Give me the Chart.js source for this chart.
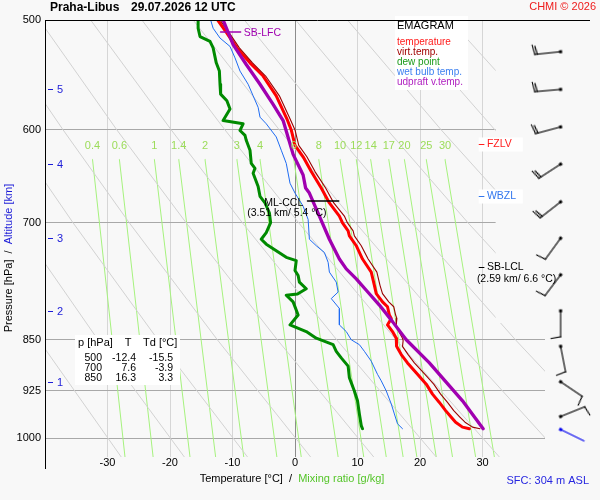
<!DOCTYPE html>
<html>
<head>
<meta charset="utf-8">
<script src="https://cdn.jsdelivr.net/npm/chart.js@4/dist/chart.umd.min.js"></script>
<style>
  html, body { margin: 0; padding: 0; background: #f8f8f8; }
  #wrap { width: 600px; height: 500px; }
</style>
</head>
<body>
<div id="wrap"><canvas id="emagram" width="600" height="500"></canvas></div>
<script>
// ─── Sounding data ───
const tempP = [500, 511, 523.7, 536.8, 548.7, 567, 589, 600, 615.5, 627.3, 642.9, 660.7, 677.2, 692.1, 700, 709.3, 715.2, 727, 743.2, 759.5, 776.3, 787.1, 797.9, 804.4, 815.5, 820.1, 829, 838.2, 847.5, 851, 859, 870.8, 882.9, 899.8, 914.6, 929.8, 942.7, 955.6, 965, 974.1, 982.1, 984.7];
const tempT = [-12.4, -10.9, -9.3, -7.2, -5.1, -3.0, -1.3, -0.6, 0.0, 1.3, 2.6, 4.2, 5.5, 7.1, 7.6, 8.5, 8.7, 9.8, 10.8, 12.2, 12.7, 13.0, 14.0, 14.8, 15.1, 15.4, 14.8, 15.6, 16.2, 16.3, 16.2, 17.0, 18.0, 19.6, 21.0, 22.0, 23.1, 24.1, 24.9, 25.7, 26.8, 27.9];
const virtT = [-12.0, -10.5, -8.9, -6.8, -4.7, -2.5, -0.8, 0.0, 0.6, 1.9, 3.2, 4.9, 6.2, 7.9, 8.4, 9.3, 9.5, 10.6, 11.7, 13.1, 13.6, 14.0, 15.0, 15.8, 16.1, 16.3, 16.2, 16.6, 17.2, 17.3, 17.2, 18.1, 19.1, 20.8, 22.2, 23.3, 24.4, 25.4, 26.3, 27.2, 28.4, 29.6];

const dewP = [500, 506.9, 513.9, 518.1, 523.7, 536.8, 544.2, 556.2, 565.4, 571.7, 579.5, 590.7, 593.9, 600.5, 605.4, 610.4, 620.5, 634.2, 639.4, 644.7, 658.9, 669.8, 677.2, 688.3, 699.7, 711.3, 719.2, 725.1, 733.0, 741.1, 745.1, 757.5, 763.7, 772.2, 780.7, 787.5, 789.2, 797.9, 815.5, 829.0, 838.2, 847.5, 856.6, 866.1, 875.6, 887.6, 904.9, 924.9, 940.2, 960.9, 979.6, 984.7];
const dewT = [-15.5, -15.5, -15.2, -13.6, -13.1, -12.6, -12.1, -12.0, -11.9, -10.9, -10.4, -11.5, -8.3, -8.8, -8.0, -7.8, -7.2, -7.0, -6.4, -6.7, -5.9, -5.6, -4.8, -4.1, -3.9, -4.6, -5.4, -4.6, -3.0, -1.4, 0.2, 0.0, 0.5, 0.7, 1.8, 0.4, -1.4, -0.3, 0.5, -0.8, 1.8, 3.4, 6.1, 6.6, 7.4, 8.5, 8.7, 9.5, 10.0, 10.3, 10.6, 10.8];

const wetP = [500, 506.9, 515.2, 522.4, 532.4, 544.2, 556.2, 567.0, 577.9, 587.4, 593.9, 607.0, 620.5, 634.2, 655.4, 666.2, 680.9, 696.0, 719.2, 727.0, 735.1, 747.3, 759.5, 772.2, 785.0, 793.6, 806.7, 829.0, 838.2, 849.7, 856.6, 866.1, 880.4, 899.8, 909.6, 924.9, 945.1, 960.9, 976.7, 984.7];
const wetT = [-13.5, -13.1, -12.0, -10.4, -9.6, -8.8, -7.5, -6.7, -5.9, -5.6, -4.6, -3.0, -2.2, -1.4, -0.8, 0.0, 1.3, 2.1, 2.3, 3.4, 4.7, 5.3, 5.5, 6.6, 6.9, 5.8, 7.1, 7.1, 8.2, 9.0, 10.3, 11.1, 12.2, 13.2, 13.8, 14.6, 15.4, 15.9, 16.4, 17.2];

const parcelP = [500, 520.9, 538.3, 556.2, 575.0, 590.7, 624.8, 646.5, 660.7, 666.2, 692.1, 719.2, 743.2, 755.5, 768.0, 782.7, 802.2, 824.5, 849.7, 882.9, 940.2, 984.7];
const parcelT = [-11.5, -9.9, -7.8, -5.6, -3.5, -1.9, -0.3, 1.3, 1.7, 2.3, 3.9, 5.5, 7.1, 8.2, 9.8, 11.4, 13.5, 15.6, 17.8, 21.5, 26.8, 30.1];

// wind barbs
const windP = [527, 561, 597, 635, 676, 718, 763, 810, 859, 911, 965, 986];
const windDir = [264, 265, 255, 237, 232, 216, 217, 180, 169, 124, 68, 116];
const windKt = [20, 20, 20, 20, 20, 10, 10, 10, 10, 10, 10, 2];

// levels and annotations
const altKm = [1, 2, 3, 4, 5];
const altP = [911, 810, 718, 635, 561];
const fzlvP = 614;
const wbzlP = 670;
const lclP = 753.5;
const cclP = 675;
const cclT = [2.0, 7.0];
const lfcP = 510;
const lfcT = [-11.9, -8.7];

const tableP = [500, 700, 850];
const tableT = [-12.4, 7.6, 16.3];
const tableTd = [-15.5, -3.9, 3.3];

// background: dry adiabats (T at the levels below) and mixing ratio lines
const adiabatLevels = [500, 600, 700, 850, 1032];
const adiabats = [
  [-73.7, -63.0, -53.6, -41.0, -27.8],
  [-65.5, -54.4, -44.5, -31.5, -17.7],
  [-57.3, -45.7, -35.5, -21.9, -7.6],
  [-49.1, -37.1, -26.5, -12.4, 2.5],
  [-40.9, -28.5, -17.4, -2.8, 12.6],
  [-32.7, -19.8, -8.4, 6.7, 22.6],
  [-24.5, -11.2, 0.6, 16.2, 32.7],
  [-16.3, -2.5, 9.7, 25.8, 42.8],
  [-8.1, 6.1, 18.7, 35.3, 52.9],
  [0.1, 14.8, 27.7, 44.9, 63.0],
  [8.4, 23.4, 36.8, 54.4, 73.1],
  [16.6, 32.0, 45.8, 64.0, 83.2],
  [24.8, 40.7, 54.8, 73.5, 93.3],
  [33.0, 49.3, 63.9, 83.1, 103.4]
];
const mixLabels = ['0.4', '0.6', '1', '1.4', '2', '3', '4', '6', '8', '10', '12', '14', '17', '20', '25', '30'];
const mixTopP = 630;
const mixBotP = 1032;
const mixTopT = [-32.4, -28.1, -22.5, -18.6, -14.4, -9.3, -5.6, -0.2, 3.8, 7.2, 9.8, 12.1, 15.0, 17.5, 21.0, 24.0];
const mixBotT = [-27.2, -22.7, -16.8, -12.7, -8.2, -2.9, 1.0, 6.9, 11.0, 14.6, 17.3, 19.5, 22.6, 25.2, 28.9, 31.9];

const pressureTicks = [600, 700, 850, 925, 1000];
const pressureLabels = [500, 600, 700, 850, 925, 1000];
const tempTicks = [-30, -20, -10, 0, 10, 20, 30];

const FONT = '"Liberation Sans", Arial, Helvetica, sans-serif';
const BG = '#f8f8f8';

function pts(ps, ts) {
  return ps.map((p, i) => ({ x: ts[i], y: p }));
}

// wind barb glyph: station dot at centre, staff pointing up (north), barbs on the right
function makeBarb(kt, color) {
  const cv = document.createElement('canvas');
  cv.width = 64; cv.height = 64;
  const g = cv.getContext('2d');
  const cx = 32, cy = 32, L = 26;
  g.strokeStyle = color; g.fillStyle = color; g.lineWidth = 1.15;
  g.lineCap = 'square';
  g.beginPath(); g.moveTo(cx, cy); g.lineTo(cx, cy - L); g.stroke();
  g.fillRect(cx - 1.5, cy - 1.5, 3, 3);
  let pos = cy - L;
  let len = 9.5;
  for (let i = 0; i < Math.floor(kt / 10); i++) {
    g.beginPath(); g.moveTo(cx, pos); g.lineTo(cx + len, pos - 1.6); g.stroke();
    pos += 2.6; len -= 1.5;
  }
  if (kt % 10 >= 5) {
    g.beginPath(); g.moveTo(cx, pos); g.lineTo(cx + 5, pos - 0.8); g.stroke();
  }
  return cv;
}
const barbImgs = windKt.map((k, i) => makeBarb(k, i === windKt.length - 1 ? '#0000ee' : '#000000'));

// ─── datasets ───
const datasets = [];
adiabats.forEach(row => {
  datasets.push({
    data: pts(adiabatLevels, row),
    borderColor: '#d2d2d2', borderWidth: 1, order: 5
  });
});
mixLabels.forEach((_, i) => {
  datasets.push({
    data: [{ x: mixTopT[i], y: mixTopP }, { x: mixBotT[i], y: mixBotP }],
    borderColor: '#a6f27e', borderWidth: 1, order: 5
  });
});
datasets.push(
  { label: 'wet bulb temp.', data: pts(wetP, wetT), borderColor: '#1f6cf2', borderWidth: 1, order: 4 },
  { label: 'dew point', data: pts(dewP, dewT), borderColor: '#008a00', borderWidth: 3, order: 3.5 },
  { label: 'temperature', data: pts(tempP, tempT), borderColor: '#ff0000', borderWidth: 3, order: 3 },
  { label: 'virt.temp.', data: pts(tempP, virtT), borderColor: '#990000', borderWidth: 1.1, order: 2.5 },
  { label: 'udpraft v.temp.', data: pts(parcelP, parcelT), borderColor: '#a000b0', borderWidth: 3.3, order: 2 },
  { data: [{ x: cclT[0], y: cclP }, { x: cclT[1], y: cclP }], borderColor: '#000000', borderWidth: 1.5, order: 1 },
  { data: [{ x: lfcT[0], y: lfcP }, { x: lfcT[1], y: lfcP }], borderColor: '#a000b0', borderWidth: 1.5, order: 1 },
  {
    data: windP.map(p => ({ x: 42.5, y: p })),
    indexAxis: 'y', showLine: false, clip: false, order: 0,
    pointRadius: 20, pointBorderWidth: 0,
    pointStyle: ctx => barbImgs[ctx.dataIndex],
    pointRotation: ctx => windDir[ctx.dataIndex]
  }
);

// ─── drawing of axes text, labels and boxes ───
const decor = {
  id: 'decor',
  beforeDraw(chart) {
    const c = chart.ctx;
    c.save(); c.fillStyle = BG; c.fillRect(0, 0, chart.width, chart.height); c.restore();
  },
  afterDatasetDraw(chart, args) {
    if (args.index !== 0) return;
    const c = chart.ctx, a = chart.chartArea;
    const X = v => chart.scales.x.getPixelForValue(v);
    const Y = v => chart.scales.y.getPixelForValue(v);
    c.save();
    // upper right corner of the diagram is left empty
    const cut = X(32.1);
    c.fillStyle = BG;
    c.fillRect(cut, a.top + 1, a.right - cut + 2, Y(825) - a.top);
    // legend box and table box
    c.fillStyle = '#ffffff';
    c.fillRect(395, 16, 73, 74);
    c.fillRect(75, 335, 105, 50);
    c.restore();
  },
  afterDraw(chart) {
    const c = chart.ctx, a = chart.chartArea;
    const X = v => chart.scales.x.getPixelForValue(v);
    const Y = v => chart.scales.y.getPixelForValue(v);
    c.save();
    // frame
    c.strokeStyle = '#000'; c.lineWidth = 1;
    c.beginPath();
    c.moveTo(Math.round(a.left) + 0.5, a.top);
    c.lineTo(Math.round(a.left) + 0.5, a.bottom + 12);
    c.moveTo(a.left, Math.round(a.top) + 0.5);
    c.lineTo(590, Math.round(a.top) + 0.5);
    c.stroke();

    // tick labels
    c.fillStyle = '#000'; c.textBaseline = 'middle';
    c.font = '11px ' + FONT;
    c.textAlign = 'right';
    pressureLabels.forEach(p => c.fillText(String(p), a.left - 4, Y(p)));
    c.textAlign = 'center';
    tempTicks.forEach(t => c.fillText(String(t), X(t), a.bottom + 6));

    // altitude ticks
    c.fillStyle = '#1c1cd8'; c.strokeStyle = '#1c1cd8';
    c.textAlign = 'left';
    altKm.forEach((km, i) => {
      const yy = Math.round(Y(altP[i])) + 0.5;
      c.beginPath(); c.moveTo(a.left + 3, yy); c.lineTo(a.left + 8, yy); c.stroke();
      c.fillText(String(km), a.left + 12, yy);
    });

    // mixing ratio labels
    c.fillStyle = '#9cdc5a'; c.textAlign = 'center';
    mixLabels.forEach((lab, i) => c.fillText(lab, X(mixTopT[i]), Y(616)));

    // title
    c.fillStyle = '#000'; c.textAlign = 'left';
    c.font = 'bold 12px ' + FONT;
    c.fillText('Praha-Libus', 50, 8);
    c.fillText('29.07.2026 12 UTC', 131, 8);
    c.font = '11px ' + FONT;
    c.fillStyle = '#ee1c1c'; c.textAlign = 'right';
    c.fillText('CHMI \u00a9 2026', 596, 7);

    // axis titles
    const chain = (parts, cx, cy) => {
      const total = parts.reduce((s, p) => s + c.measureText(p[0]).width, 0);
      let xx = cx - total / 2;
      c.textAlign = 'left';
      parts.forEach(p => { c.fillStyle = p[1]; c.fillText(p[0], xx, cy); xx += c.measureText(p[0]).width; });
    };
    c.font = '11px ' + FONT;
    c.save();
    c.translate(9, 258); c.rotate(-Math.PI / 2);
    chain([['Pressure [hPa]', '#000'], ['  /  ', '#000'], ['Altitude [km]', '#1c1cd8']], 0, 0);
    c.restore();
    chain([['Temperature [\u00b0C]  /  ', '#000'], ['Mixing ratio [g/kg]', '#55c52a']], 292, 479);
    c.fillStyle = '#2626e0'; c.textAlign = 'right';
    c.fillText('SFC: 304 m ASL', 589, 481);

    // legend
    c.textAlign = 'left'; c.fillStyle = '#000';
    c.fillText('EMAGRAM', 397, 26);
    c.font = '10px ' + FONT;
    const legLab = ['temperature', 'virt.temp.', 'dew point', 'wet bulb temp.', 'udpraft v.temp.'];
    const legCol = ['#ff1a1a', '#a00000', '#1a9a1a', '#3a7ff0', '#b020c0'];
    legLab.forEach((t, i) => { c.fillStyle = legCol[i]; c.fillText(t, 397, 42 + i * 10); });

    // table
    c.fillStyle = '#000';
    c.font = '11px ' + FONT;
    c.textAlign = 'left'; c.fillText('p [hPa]', 78, 343);
    c.textAlign = 'center'; c.fillText('T', 128, 343);
    c.textAlign = 'left'; c.fillText('Td [\u00b0C]', 143, 343);
    c.font = '10.5px ' + FONT; c.textAlign = 'right';
    tableP.forEach((p, i) => {
      const yy = 358 + i * 10;
      c.fillText(String(p), 102, yy);
      c.fillText(tableT[i].toFixed(1), 136, yy);
      c.fillText(tableTd[i].toFixed(1), 173, yy);
    });

    // level annotations
    c.font = '10.5px ' + FONT;
    const level = (text, color, p, box) => {
      const yy = Math.round(Y(p)) + 0.5;
      if (box) { c.fillStyle = '#ffffff'; c.fillRect(X(29.4), yy - 7, 44, 14); }
      c.strokeStyle = color; c.fillStyle = color;
      c.beginPath(); c.moveTo(X(29.4), yy); c.lineTo(X(30.3), yy); c.stroke();
      c.textAlign = 'left'; c.fillText(text, X(30.7), yy);
    };
    level('FZLV', '#ff2020', fzlvP, true);
    level('WBZL', '#3377ee', wbzlP, true);
    level('SB-LCL', '#000000', lclP, false);
    c.fillStyle = '#000'; c.textAlign = 'left';
    c.fillText('(2.59 km/ 6.6 \u00b0C)', X(29.1), Y(lclP) + 12);

    c.textAlign = 'center';
    c.fillText('ML-CCL', X(-1.8), Y(cclP) + 2);
    c.fillText('(3.51 km/ 5.4 \u00b0C)', X(-1.3), Y(cclP) + 12);

    c.fillStyle = '#a000b0'; c.textAlign = 'left';
    c.fillText('SB-LFC', X(-8.2), Y(lfcP) + 1);
    c.restore();
  }
};

new Chart(document.getElementById('emagram'), {
  type: 'line',
  data: { datasets },
  options: {
    responsive: false,
    animation: false,
    events: [],
    layout: { padding: { top: 15, left: 45, right: 55, bottom: 43 } },
    elements: {
      point: { radius: 0 },
      line: { tension: 0, fill: false, borderJoinStyle: 'round', borderCapStyle: 'round' }
    },
    plugins: { legend: { display: false }, tooltip: { enabled: false } },
    scales: {
      x: {
        type: 'linear', min: -40, max: 40, bounds: 'data',
        afterBuildTicks: s => { s.ticks = tempTicks.map(v => ({ value: v })); },
        afterFit: s => { s.height = 0; },
        ticks: { display: false, autoSkip: false },
        border: { display: false },
        grid: {
          drawTicks: false,
          lineWidth: 1,
          color: ctx => (ctx.tick && ctx.tick.value === 0) ? '#8c8c8c' : '#d6d6d6'
        }
      },
      y: {
        type: 'logarithmic', min: 500, max: 1032, reverse: true, bounds: 'data',
        afterBuildTicks: s => { s.ticks = pressureTicks.map(v => ({ value: v })); },
        afterFit: s => { s.width = 0; },
        ticks: { display: false, autoSkip: false },
        border: { display: false },
        grid: { drawTicks: false, lineWidth: 1, color: '#a8a8a8' }
      }
    }
  },
  plugins: [decor]
});
</script>
</body>
</html>
